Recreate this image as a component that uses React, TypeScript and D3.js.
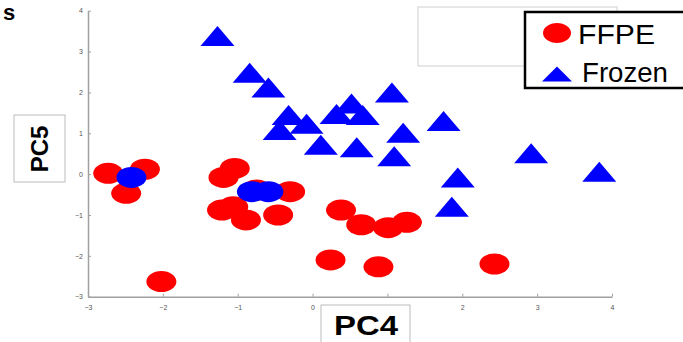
import React, { useEffect, useRef } from 'react'
import * as d3 from 'd3'

const ffpeX = [-2.73, -2.24, -2.49, -2.02, -1.19, -1.04, -1.21, -1.06, -0.89, -0.75, -0.3, -0.46, 0.38, 0.65, 1.01, 1.26, 0.24, 0.88, 2.43]
const ffpeY = [0.02, 0.12, -0.47, -2.63, -0.08, 0.14, -0.88, -0.8, -1.12, -0.39, -0.43, -1.0, -0.88, -1.24, -1.31, -1.18, -2.1, -2.27, -2.2]

// blue ellipses (frozen samples drawn as circles)
const blueDotX = [-2.42, -0.81, -0.59]
const blueDotY = [-0.08, -0.43, -0.43]

const frozenX = [-1.27, -0.84, -0.59, -0.32, -0.44, -0.08, 0.11, 0.32, 0.52, 0.67, 0.59, 1.06, 1.21, 1.09, 1.75, 1.94, 1.86, 2.92, 3.83]
const frozenY = [3.38, 2.48, 2.12, 1.45, 1.08, 1.23, 0.72, 1.47, 1.73, 1.45, 0.66, 2.0, 1.01, 0.44, 1.3, -0.08, -0.8, 0.51, 0.06]

const xTicks = [-3, -2, -1, 0, 1, 2, 3, 4]
const yTicks = [-3, -2, -1, 0, 1, 2, 3, 4]

const App: React.FC = () => {
  const svgRef = useRef<SVGSVGElement>(null)

  useEffect(() => {
    if (!svgRef.current) return
    const width = 683
    const height = 342

    const x = d3.scaleLinear().domain([-3, 4]).range([88, 612])
    const y = d3.scaleLinear().domain([-3, 4]).range([296.7, 10.7])

    const svg = d3.select(svgRef.current)
    svg.selectAll('*').remove()
    svg.attr('width', width).attr('height', height)

    const g = svg.append('g')

    // light grey box behind legend
    g.append('rect')
      .attr('x', 418).attr('y', 7).attr('width', 199).attr('height', 59)
      .attr('fill', 'none').attr('stroke', '#cfcfcf').attr('stroke-width', 1)

    // axes
    const axisColor = '#a0a0a0'
    const fmt = d3.format('d')
    const xAxis = g.append('g')
      .attr('transform', `translate(0,${y(-3)})`)
      .call(d3.axisBottom(x).tickValues(xTicks).tickFormat((d) => fmt(+d)).tickSizeInner(-3).tickSizeOuter(0).tickPadding(8))
    const yAxis = g.append('g')
      .attr('transform', `translate(${x(-3)},0)`)
      .call(d3.axisLeft(y).tickValues(yTicks).tickFormat((d) => fmt(+d)).tickSizeInner(-3).tickSizeOuter(0).tickPadding(5))
    ;[xAxis, yAxis].forEach((a) => {
      a.select('.domain').attr('stroke', axisColor).attr('stroke-width', 1.5)
      a.selectAll('.tick line').attr('stroke', axisColor).attr('stroke-width', 1)
      a.selectAll('.tick text')
        .attr('fill', '#555')
        .style('font-family', 'Liberation Sans, Arial, sans-serif')
        .style('font-size', '7px')
    })

    // red ellipses
    g.selectAll('.ffpe')
      .data(ffpeX.map((v, i) => [v, ffpeY[i]]))
      .enter()
      .append('ellipse')
      .attr('cx', (d) => x(d[0]))
      .attr('cy', (d) => y(d[1]))
      .attr('rx', 15)
      .attr('ry', 10.5)
      .attr('fill', '#ff0000')

    g.selectAll('.bdot')
      .data(blueDotX.map((v, i) => [v, blueDotY[i]]))
      .enter()
      .append('ellipse')
      .attr('cx', (d) => x(d[0]))
      .attr('cy', (d) => y(d[1]))
      .attr('rx', 15)
      .attr('ry', 10.5)
      .attr('fill', '#0000ff')

    const tri = (cx: number, cy: number, w: number, h: number) =>
      `M${cx - w / 2},${cy + h / 2}L${cx},${cy - h / 2}L${cx + w / 2},${cy + h / 2}Z`

    g.selectAll('.frozen')
      .data(frozenX.map((v, i) => [v, frozenY[i]]))
      .enter()
      .append('path')
      .attr('d', (d) => tri(x(d[0]), y(d[1]), 34, 20))
      .attr('fill', '#0000ff')

    // legend
    const lg = g.append('g')
    lg.append('rect')
      .attr('x', 525).attr('y', 12).attr('width', 170).attr('height', 76)
      .attr('fill', 'white').attr('stroke', '#000').attr('stroke-width', 2.5)
    lg.append('ellipse')
      .attr('cx', 557).attr('cy', 33).attr('rx', 14).attr('ry', 10).attr('fill', '#ff0000')
    lg.append('path').attr('d', tri(557, 74, 30, 15)).attr('fill', '#0000ff')
    lg.append('text')
      .attr('x', 578).attr('y', 44)
      .attr('textLength', 77).attr('lengthAdjust', 'spacingAndGlyphs')
      .style('font-family', 'Liberation Sans, Arial, sans-serif').style('font-size', '27px')
      .text('FFPE')
    lg.append('text')
      .attr('x', 582).attr('y', 82)
      .attr('textLength', 86).attr('lengthAdjust', 'spacingAndGlyphs')
      .style('font-family', 'Liberation Sans, Arial, sans-serif').style('font-size', '27px')
      .text('Frozen')

    // axis title boxes
    g.append('rect')
      .attr('x', 14).attr('y', 115).attr('width', 51).attr('height', 67)
      .attr('fill', 'white').attr('stroke', '#bbb').attr('stroke-width', 1)
    g.append('text')
      .attr('transform', 'translate(48,149) rotate(-90)')
      .attr('text-anchor', 'middle')
      .style('font-family', 'Liberation Sans, Arial, sans-serif').style('font-size', '24px').style('font-weight', 'bold')
      .text('PC5')

    g.append('rect')
      .attr('x', 321).attr('y', 305).attr('width', 89).attr('height', 40)
      .attr('fill', 'white').attr('stroke', '#bbb').attr('stroke-width', 1)
    g.append('text')
      .attr('x', 366).attr('y', 335)
      .attr('text-anchor', 'middle')
      .attr('textLength', 64).attr('lengthAdjust', 'spacingAndGlyphs')
      .style('font-family', 'Liberation Sans, Arial, sans-serif').style('font-size', '27px').style('font-weight', 'bold')
      .text('PC4')

    // panel letter at top-left
    g.append('text')
      .attr('x', 3).attr('y', 20)
      .style('font-family', 'Liberation Sans, Arial, sans-serif').style('font-size', '22px').style('font-weight', 'bold')
      .text('s')
  }, [])

  return (
    <div style={{ position: 'fixed', left: 0, top: 0, background: 'white' }}>
      <svg ref={svgRef} style={{ display: 'block' }} />
    </div>
  )
}

export default App
